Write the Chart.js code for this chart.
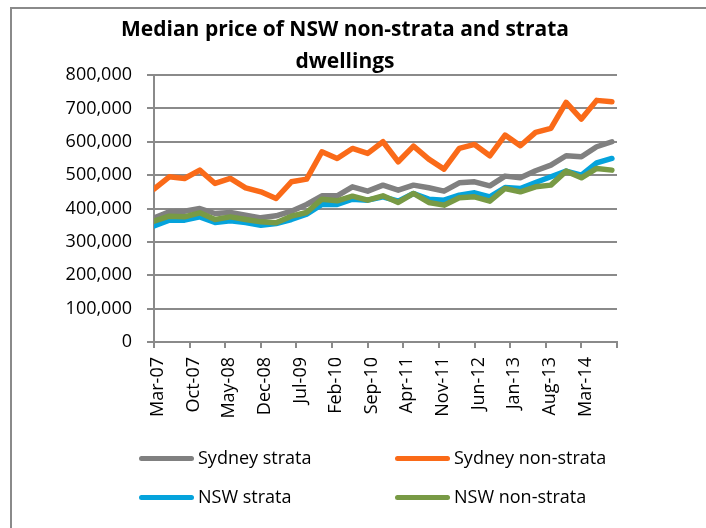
<!DOCTYPE html>
<html>
<head>
<meta charset="utf-8">
<title>Median price of NSW non-strata and strata dwellings</title>
<script src="https://cdn.jsdelivr.net/npm/chart.js@4.4.1/dist/chart.umd.min.js"></script>
<style>
    body { margin: 0; background: #fff; font-family: "Open Sans", sans-serif; color: #000; }
    .contenidor { position: relative; width: 706px; height: 528px; overflow: hidden; }
    .marc { position: absolute; left: 10px; top: 7px; width: 720px; height: 540px;
            border-left: 2px solid #8a8a8a; border-top: 2px solid #8a8a8a; }
    #myChart { position: absolute; left: 0; top: 0; }
    .titol { position: absolute; left: 0; top: 12px; width: 690px; text-align: center;
             font-weight: bold; font-size: 21px; line-height: 32px; }
    .item { position: absolute; font-size: 18px; line-height: 24px; white-space: nowrap; }
    .item span { display: inline-block; width: 55px; height: 5px; border-radius: 3px;
                 vertical-align: middle; margin-right: 4px; position: relative; top: -1px; }
</style>
</head>
<body>
<div class="contenidor">
    <div class="marc"></div>
    <canvas id="myChart" width="706" height="528"></canvas>
    <div class="titol">Median price of NSW non-strata and strata<br>dwellings</div>
    <div id="llegenda"></div>
</div>
<script>
// quarterly periods
const periods = ['Mar-07', 'Jun-07', 'Sep-07', 'Dec-07', 'Mar-08', 'Jun-08', 'Sep-08', 'Dec-08',
    'Mar-09', 'Jun-09', 'Sep-09', 'Dec-09', 'Mar-10', 'Jun-10', 'Sep-10', 'Dec-10',
    'Mar-11', 'Jun-11', 'Sep-11', 'Dec-11', 'Mar-12', 'Jun-12', 'Sep-12', 'Dec-12',
    'Mar-13', 'Jun-13', 'Sep-13', 'Dec-13', 'Mar-14', 'Jun-14', 'Sep-14'];

// axis labels, one every 7 months
const xTickLabels = ['Mar-07', 'Oct-07', 'May-08', 'Dec-08', 'Jul-09', 'Feb-10', 'Sep-10',
    'Apr-11', 'Nov-11', 'Jun-12', 'Jan-13', 'Aug-13', 'Mar-14'];

const sydneyStrata = [372000, 390000, 392000, 400000, 385000, 388000, 380000, 372000,
    378000, 392000, 412000, 438000, 438000, 465000, 452000, 470000,
    455000, 470000, 462000, 452000, 477000, 480000, 468000, 497000,
    492000, 513000, 530000, 558000, 555000, 585000, 600000];

const sydneyNonStrata = [458000, 495000, 490000, 515000, 475000, 490000, 462000, 450000,
    430000, 480000, 488000, 570000, 550000, 580000, 565000, 600000,
    540000, 587000, 548000, 518000, 580000, 592000, 558000, 620000,
    588000, 628000, 640000, 718000, 668000, 724000, 720000];

const nswStrata = [348000, 365000, 365000, 375000, 358000, 363000, 358000, 350000,
    355000, 367000, 383000, 412000, 412000, 428000, 425000, 435000,
    422000, 445000, 428000, 425000, 440000, 447000, 435000, 463000,
    460000, 478000, 495000, 512000, 500000, 537000, 550000];

const nswNonStrata = [362000, 377000, 375000, 387000, 367000, 375000, 367000, 360000,
    357000, 377000, 388000, 428000, 423000, 437000, 425000, 438000,
    418000, 445000, 418000, 410000, 432000, 435000, 422000, 460000,
    450000, 465000, 470000, 512000, 492000, 520000, 515000];

const monthNames = ['Jan', 'Feb', 'Mar', 'Apr', 'May', 'Jun', 'Jul', 'Aug', 'Sep', 'Oct', 'Nov', 'Dec'];

const toMonth = (label) => {
    const parts = label.split('-');
    return (2000 + Number(parts[1])) * 12 + monthNames.indexOf(parts[0]);
};

const firstMonth = toMonth(periods[0]);

const toPoints = (values) => values.map((v, i) => ({ x: toMonth(periods[i]) - firstMonth, y: v }));

const series = [
    { label: 'Sydney strata', color: '#808080', data: sydneyStrata, order: 4 },
    { label: 'Sydney non-strata', color: '#fa6a18', data: sydneyNonStrata, order: 3 },
    { label: 'NSW strata', color: '#05a3dc', data: nswStrata, order: 2 },
    { label: 'NSW non-strata', color: '#789a45', data: nswNonStrata, order: 1 }
];

const gridColor = '#8a8a8a';
const tickFont = { family: 'Open Sans', size: 18 };

const myChart = () => {
    const ctx = document.getElementById('myChart').getContext('2d');
    new Chart(ctx, {
        type: 'line',
        data: {
            datasets: series.map((s) => ({
                label: s.label,
                data: toPoints(s.data),
                borderColor: s.color,
                backgroundColor: s.color,
                borderWidth: 5.5,
                borderJoinStyle: 'round',
                borderCapStyle: 'round',
                pointRadius: 0,
                tension: 0,
                order: s.order
            }))
        },
        options: {
            responsive: false,
            animation: false,
            devicePixelRatio: 1,
            layout: { padding: { left: 12, right: 89, top: 75, bottom: 0 } },
            plugins: {
                legend: { display: false },
                title: { display: false },
                tooltip: { enabled: false }
            },
            scales: {
                x: {
                    type: 'linear',
                    min: 0,
                    max: 91,
                    afterFit: (scale) => { scale.height = 186; },
                    grid: { drawOnChartArea: false, color: gridColor, lineWidth: 2, tickLength: 6 },
                    border: { color: gridColor, width: 2 },
                    ticks: {
                        stepSize: 7,
                        autoSkip: false,
                        minRotation: 90,
                        maxRotation: 90,
                        padding: 9,
                        labelOffset: 4,
                        color: '#000',
                        font: tickFont,
                        callback: (value) => xTickLabels[value / 7] || ''
                    }
                },
                y: {
                    min: 0,
                    max: 800000,
                    afterFit: (scale) => { scale.width = 142; },
                    grid: { color: gridColor, lineWidth: 2, tickLength: 7 },
                    border: { color: gridColor, width: 2 },
                    ticks: {
                        stepSize: 100000,
                        padding: 15,
                        color: '#000',
                        font: tickFont,
                        callback: (value) => value.toLocaleString('en-US')
                    }
                }
            }
        }
    });
};

// legend, two columns like the original
const showLegend = () => {
    const llegenda = document.getElementById('llegenda');
    const lefts = [139, 395];
    const tops = [445, 484];
    series.forEach((s, i) => {
        const item = document.createElement('div');
        item.className = 'item';
        item.style.left = lefts[i % 2] + 'px';
        item.style.top = tops[Math.floor(i / 2)] + 'px';
        item.innerHTML = `<span style="background:${s.color}"></span>${s.label}`;
        llegenda.appendChild(item);
    });
};

myChart();
showLegend();
</script>
</body>
</html>
